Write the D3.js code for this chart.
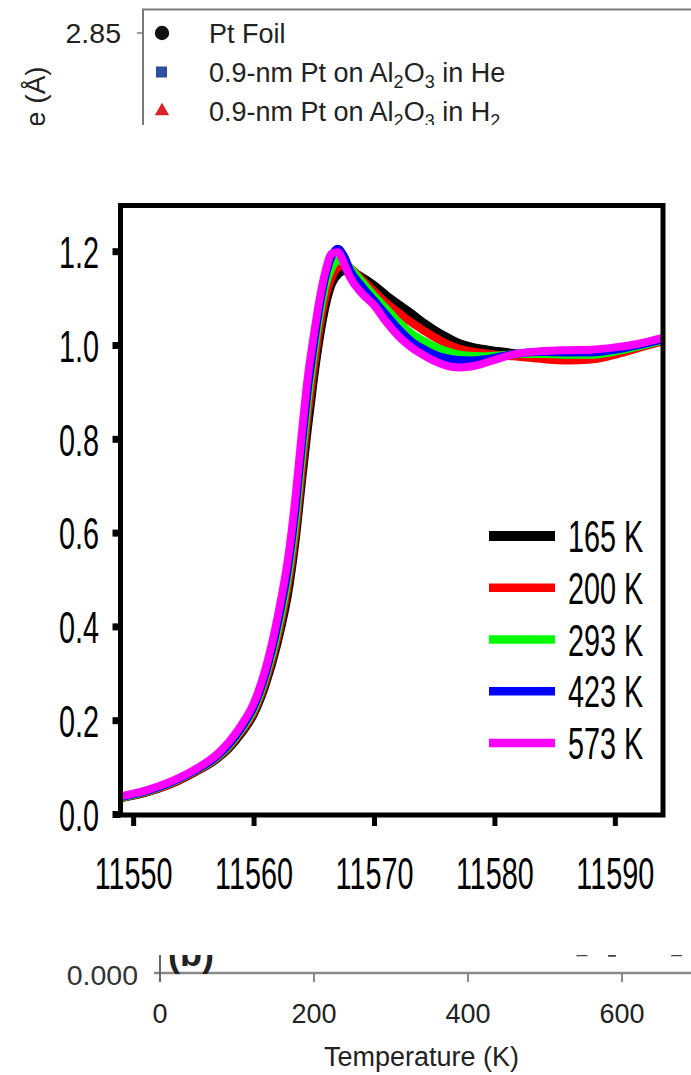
<!DOCTYPE html>
<html>
<head>
<meta charset="utf-8">
<script src="https://cdn.jsdelivr.net/npm/d3@7"></script>
<style>
  html, body { margin: 0; padding: 0; background: #fff; }
  svg { display: block; }
  text { font-family: "Liberation Sans", Arial, Helvetica, sans-serif; }
</style>
</head>
<body>
<svg id="chart" width="691" height="1075"></svg>
<script>
// ---------------- DATA ----------------
const energy = [11549, 11551, 11553, 11555, 11557, 11558, 11559, 11560, 11561, 11562,
  11563, 11563.5, 11564, 11564.5, 11565, 11565.5, 11566, 11566.5, 11567, 11567.5,
  11568, 11569, 11570, 11571, 11572, 11573, 11574, 11575, 11576, 11577,
  11578, 11579, 11580, 11581, 11582, 11584, 11586, 11588, 11590, 11592, 11594];

const mu165K = [0.034, 0.045, 0.062, 0.087, 0.118, 0.141, 0.172, 0.211, 0.275, 0.365,
  0.49, 0.585, 0.705, 0.82, 0.925, 1.015, 1.085, 1.13, 1.15, 1.157,
  1.157, 1.145, 1.128, 1.107, 1.088, 1.07, 1.05, 1.033, 1.018, 1.005,
  0.997, 0.992, 0.988, 0.985, 0.981, 0.973, 0.969, 0.97, 0.981, 0.996, 1.01];
const mu200K = [0.034, 0.046, 0.063, 0.088, 0.12, 0.144, 0.176, 0.216, 0.283, 0.377,
  0.51, 0.605, 0.73, 0.85, 0.95, 1.04, 1.105, 1.145, 1.165, 1.17,
  1.165, 1.14, 1.115, 1.09, 1.07, 1.05, 1.033, 1.017, 1.003, 0.993,
  0.987, 0.983, 0.98, 0.977, 0.975, 0.97, 0.967, 0.969, 0.979, 0.994, 1.008];
const mu293K = [0.035, 0.047, 0.065, 0.09, 0.122, 0.147, 0.18, 0.222, 0.292, 0.39,
  0.53, 0.63, 0.76, 0.88, 0.98, 1.065, 1.13, 1.165, 1.18, 1.178,
  1.165, 1.135, 1.105, 1.078, 1.05, 1.027, 1.01, 0.997, 0.987, 0.98,
  0.977, 0.976, 0.977, 0.979, 0.981, 0.981, 0.979, 0.979, 0.986, 0.997, 1.01];
const mu423K = [0.036, 0.048, 0.066, 0.091, 0.124, 0.15, 0.184, 0.228, 0.30, 0.405,
  0.55, 0.655, 0.785, 0.905, 1.0, 1.085, 1.15, 1.19, 1.205, 1.19,
  1.16, 1.125, 1.095, 1.065, 1.035, 1.01, 0.993, 0.98, 0.972, 0.968,
  0.967, 0.969, 0.973, 0.978, 0.982, 0.985, 0.984, 0.984, 0.99, 1.0, 1.012];
const mu573K = [0.038, 0.05, 0.068, 0.093, 0.128, 0.155, 0.19, 0.235, 0.31, 0.42,
  0.57, 0.68, 0.81, 0.93, 1.02, 1.10, 1.16, 1.195, 1.198, 1.175,
  1.145, 1.11, 1.085, 1.05, 1.02, 0.997, 0.98, 0.966, 0.956, 0.952,
  0.954, 0.96, 0.968, 0.976, 0.982, 0.987, 0.989, 0.99, 0.995, 1.003, 1.015];

const seriesNames = ["165 K", "200 K", "293 K", "423 K", "573 K"];
const seriesValues = [mu165K, mu200K, mu293K, mu423K, mu573K];
const seriesColors = ["#000000", "#ff0000", "#00ff00", "#0000ff", "#ff00ff"];

const xTicks = [11550, 11560, 11570, 11580, 11590];
const yTicks = [0.0, 0.2, 0.4, 0.6, 0.8, 1.0, 1.2];

// fragments of neighbouring panels
const topTickLabel = ["2.85"];
const topLegendNames = ["Pt Foil", "0.9-nm Pt on Al", "0.9-nm Pt on Al"];
const topLegendTails = ["", " in He", " in H"];
const topLegendTailSub = ["", "", "2"];
const topLegendColors = ["#111111", "#2d4e9e", "#d8232a"];
const topAxisTitle = "e (Å)";
const bottomTicks = [0, 200, 400, 600];
const bottomYLabel = ["0.000"];
const bottomTitle = "Temperature (K)";
const bottomPanelTag = "(b)";
const bottomPointsT = [548, 587, 671];
const bottomPointsV = [0.0011, 0.0011, 0.0011];

// ---------------- DRAW ----------------
const svg = d3.select("#chart");
const defs = svg.append("defs");
defs.append("clipPath").attr("id", "clipTop").append("rect")
  .attr("x", 0).attr("y", 0).attr("width", 691).attr("height", 125);
defs.append("clipPath").attr("id", "clipBottom").append("rect")
  .attr("x", 0).attr("y", 955).attr("width", 691).attr("height", 120);
defs.append("clipPath").attr("id", "clipPlot").append("rect")
  .attr("x", 120.5).attr("y", 205.5).attr("width", 542.5).attr("height", 609.5);

// ---- main chart ----
const x = d3.scaleLinear().domain([11548.95, 11594]).range([120.5, 663]);
const y = d3.scaleLinear().domain([0, 1.3]).range([814, 204.3]);
const SX = 0.64; // condensed font look
const FS = 45;

const line = d3.line()
  .x(d => x(d[0]))
  .y(d => y(d[1]))
  .curve(d3.curveMonotoneX);

const curves = svg.append("g").attr("clip-path", "url(#clipPlot)");
seriesValues.forEach((vals, i) => {
  curves.append("path")
    .datum(energy.map((e, j) => [e, vals[j]]))
    .attr("d", line)
    .attr("fill", "none")
    .attr("stroke", seriesColors[i])
    .attr("stroke-width", 8)
    .attr("stroke-linejoin", "round")
    .attr("stroke-linecap", "round");
});

// frame
svg.append("rect")
  .attr("x", x.range()[0]).attr("y", y(1.3) + 1.2)
  .attr("width", x.range()[1] - x.range()[0])
  .attr("height", 815 - (y(1.3) + 1.2))
  .attr("fill", "none").attr("stroke", "#000").attr("stroke-width", 5);

// x axis
const gx = svg.append("g").attr("transform", "translate(0,815)")
  .call(d3.axisBottom(x).tickValues(xTicks).tickSize(11).tickSizeOuter(0).tickFormat(d3.format("d")));
gx.select(".domain").remove();
gx.selectAll(".tick line").attr("stroke", "#000").attr("stroke-width", 5);
gx.selectAll(".tick text")
  .attr("y", 74).attr("dy", null)
  .attr("font-size", FS).attr("fill", "#000")
  .attr("font-family", "'Liberation Sans', Arial, sans-serif")
  .attr("transform", `scale(${SX},1)`);

// y axis
const gy = svg.append("g").attr("transform", `translate(${x.range()[0]},0)`)
  .call(d3.axisLeft(y).tickValues(yTicks).tickSize(8).tickSizeOuter(0).tickFormat(d3.format(".1f")));
gy.select(".domain").remove();
gy.selectAll(".tick line").attr("stroke", "#000").attr("stroke-width", 7);
gy.selectAll(".tick text")
  .attr("x", -21.5 / SX).attr("dy", "0.36em")
  .attr("font-size", FS).attr("fill", "#000")
  .attr("font-family", "'Liberation Sans', Arial, sans-serif")
  .attr("transform", `scale(${SX},1)`);

// legend
const leg = svg.append("g");
seriesNames.forEach((name, i) => {
  const cy = 536 + i * 51.75;
  leg.append("line")
    .attr("x1", 489).attr("x2", 555).attr("y1", cy).attr("y2", cy)
    .attr("stroke", seriesColors[i]).attr("stroke-width", i === 0 ? 10 : 8.5);
  leg.append("g").attr("transform", `translate(568,${cy})`)
    .append("text")
    .attr("transform", `scale(${SX},1)`)
    .attr("dy", "0.36em")
    .attr("font-size", FS).attr("fill", "#000")
    .text(name);
});

// ---- top fragment ----
const topG = svg.append("g").attr("clip-path", "url(#clipTop)");
topG.append("path")
  .attr("d", "M691,9.5 H143 V140")
  .attr("fill", "none").attr("stroke", "#7a7a7a").attr("stroke-width", 2);
topG.append("line").attr("x1", 137).attr("x2", 143).attr("y1", 33).attr("y2", 33)
  .attr("stroke", "#7a7a7a").attr("stroke-width", 1.5);
topG.append("text").attr("x", 121).attr("y", 33).attr("dy", "0.36em")
  .attr("text-anchor", "end").attr("font-size", 28.5).attr("fill", "#222")
  .text(topTickLabel[0]);
topG.append("text")
  .attr("transform", "translate(45,127) rotate(-90)")
  .attr("font-size", 28).attr("fill", "#222")
  .text(topAxisTitle);

const rowY = [33, 72, 111];
topG.append("circle").attr("cx", 162).attr("cy", rowY[0]).attr("r", 7.2).attr("fill", topLegendColors[0]);
topG.append("rect").attr("x", 156).attr("y", rowY[1] - 5.5).attr("width", 11).attr("height", 11).attr("fill", topLegendColors[1]);
topG.append("path").attr("transform", `translate(162,${rowY[2]})`)
  .attr("d", d3.symbol().type(d3.symbolTriangle).size(90)).attr("fill", topLegendColors[2]);

topLegendNames.forEach((nm, i) => {
  const t = topG.append("text").attr("x", 209).attr("y", rowY[i]).attr("dy", "0.36em")
    .attr("font-size", 27).attr("fill", "#222");
  t.append("tspan").text(nm);
  if (i > 0) {
    t.append("tspan").attr("dy", 6).attr("font-size", 18).text("2");
    t.append("tspan").attr("dy", -6).attr("font-size", 27).text("O");
    t.append("tspan").attr("dy", 6).attr("font-size", 18).text("3");
    t.append("tspan").attr("dy", -6).attr("font-size", 27).text(topLegendTails[i]);
    if (topLegendTailSub[i]) {
      t.append("tspan").attr("dy", 6).attr("font-size", 18).text(topLegendTailSub[i]);
    }
  }
});

// ---- bottom fragment ----
const bot = svg.append("g").attr("clip-path", "url(#clipBottom)");
const tS = d3.scaleLinear().domain([0, 600]).range([160, 622]);
const yB = d3.scaleLinear().domain([0, 0.004]).range([973, 900]);
bot.append("line").attr("x1", 154).attr("x2", 691).attr("y1", yB(0)).attr("y2", yB(0))
  .attr("stroke", "#8a8a8a").attr("stroke-width", 2.5);
bot.append("line").attr("x1", tS(0)).attr("x2", tS(0)).attr("y1", 930).attr("y2", 982)
  .attr("stroke", "#666").attr("stroke-width", 2);
bottomTicks.slice(1).forEach(t => {
  bot.append("line").attr("x1", tS(t)).attr("x2", tS(t)).attr("y1", yB(0)).attr("y2", 982)
    .attr("stroke", "#8a8a8a").attr("stroke-width", 2);
});
bottomTicks.forEach(t => {
  bot.append("text").attr("x", tS(t)).attr("y", 1013).attr("dy", "0.36em")
    .attr("text-anchor", "middle").attr("font-size", 27).attr("fill", "#222").text(t);
});
bot.append("text").attr("x", 138).attr("y", 975).attr("dy", "0.36em")
  .attr("text-anchor", "end").attr("font-size", 28.5).attr("fill", "#333").text(bottomYLabel[0]);
bot.append("text").attr("x", 168).attr("y", 966)
  .attr("font-size", 36).attr("font-weight", "bold").attr("fill", "#222").text(bottomPanelTag);
bot.append("text").attr("x", 324).attr("y", 1056).attr("dy", "0.36em")
  .attr("font-size", 27).attr("fill", "#222").text(bottomTitle);
bottomPointsT.forEach((t, i) => {
  bot.append("path").attr("transform", `translate(${tS(t)},${yB(bottomPointsV[i])})`)
    .attr("d", d3.symbol().type(i === 1 ? d3.symbolSquare : d3.symbolTriangle).size(60))
    .attr("fill", "#444");
});
</script>
</body>
</html>
